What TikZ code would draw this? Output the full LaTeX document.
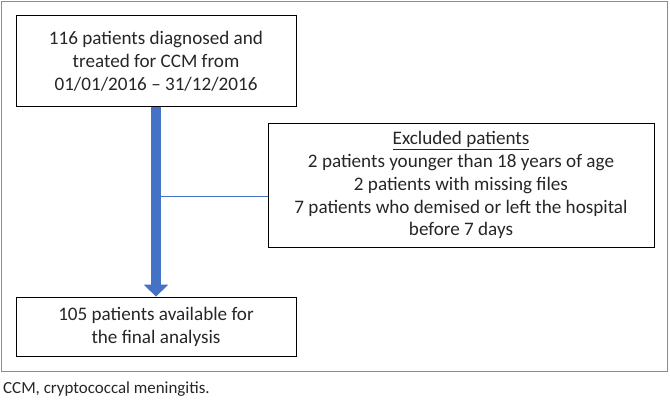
\documentclass[tikz,border=0pt]{standalone}
\usepackage{fontspec}
\setmainfont{Carlito}
\usetikzlibrary{arrows.meta}
\definecolor{flowblue}{HTML}{4472C4}
\definecolor{framegray}{HTML}{8C8C8C}
\definecolor{textgray}{HTML}{262626}
\tikzset{
	flowbox/.style={draw=black, thick, align=center, inner sep=0pt, text=textgray,
		font=\fontsize{19.2pt}{23pt}\selectfont},
}

\begin{document}
\begin{tikzpicture}[x=1bp, y=-1bp]
	\useasboundingbox (0,0) rectangle (670,401);
	\draw[framegray, line width=1bp] (1,1) rectangle (667,371);
	
	\node[flowbox, minimum width=280bp, minimum height=91bp] (diagnosed) at (156,61)
		{116 patients diagnosed and\\treated for CCM from\\01/01/2016 -- 31/12/2016};
	\node[flowbox, minimum width=280bp, minimum height=59bp] (analysis) at (156,326.5)
		{105 patients available for\\the final analysis};
	\node[flowbox, minimum width=386bp, minimum height=124bp] (excluded) at (461,185)
		{\underline{Excluded patients}\\2 patients younger than 18 years of age\\2 patients with missing files\\7 patients who demised or left the hospital\\before 7 days};
	
	\draw[flowblue, line width=10bp, -{Triangle[width=24bp, length=12bp]}] (diagnosed.south) -- (analysis.north);
	\coordinate (junction) at (158,196);
	\draw[flowblue, line width=1bp] (junction) -- (junction -| excluded.west);
	
	\node[anchor=base west, inner sep=0pt, text=textgray, font=\fontsize{17pt}{20pt}\selectfont] (note) at (3,393)
		{CCM, cryptococcal meningitis.};
\end{tikzpicture}
\end{document}
